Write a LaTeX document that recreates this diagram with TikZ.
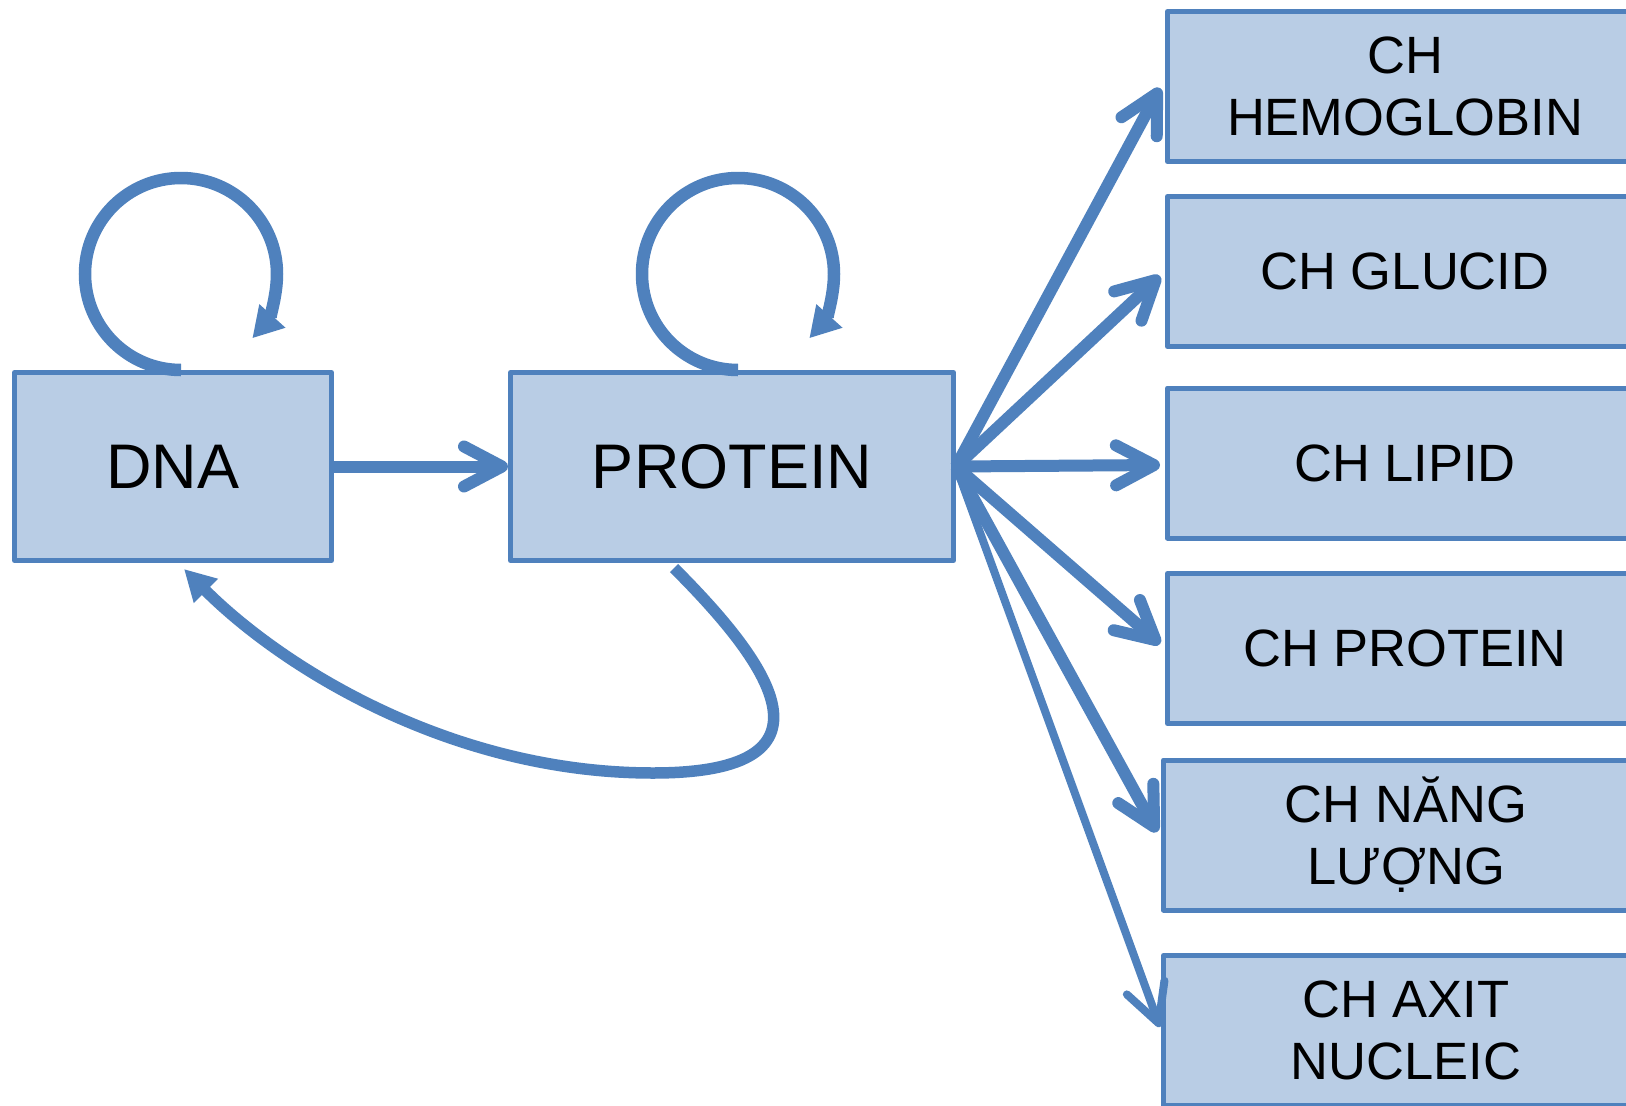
\documentclass[tikz,border=0pt]{standalone}
\usepackage{fontspec}
\setmainfont{Liberation Sans}
\usetikzlibrary{arrows.meta}
\definecolor{boxfill}{HTML}{B9CDE5}
\definecolor{boxline}{HTML}{4F81BD}
\begin{document}
\begin{tikzpicture}[x=1pt,y=-1pt,
  bigbox/.style={draw=boxline, fill=boxfill, line width=5pt, line join=round, inner sep=0pt,
    minimum height=188pt, font=\fontsize{63}{75}\selectfont},
  rbox/.style={draw=boxline, fill=boxfill, line width=5pt, line join=round, inner sep=0pt,
    minimum height=150pt, align=center, font=\fontsize{52.5}{62}\selectfont},
  openarrow/.style={draw=boxline, line width=#1, -{Straight Barb[length=38pt,width=40pt,round]}},
  openarrow/.default=12pt,
  looparrow/.style={draw=boxline, line width=12.5pt, -{Triangle[length=30pt,width=33pt]}},
  curvearrow/.style={draw=boxline, line width=11.5pt, -{Triangle[length=31pt,width=32pt]}}
]
\useasboundingbox (0,0) rectangle (1626,1106);
\clip (0,0) rectangle (1626,1106);
\fill[white] (0,0) rectangle (1626,1106);

\node[bigbox, minimum width=317pt] (dna) at (173,466.5) {DNA};
\node[bigbox, minimum width=443pt] (prot) at (732,466.5) {PROTEIN};

\node[rbox, minimum width=475pt] (b1) at (1405,86.5) {CH\\HEMOGLOBIN};
\node[rbox, minimum width=475pt] (b2) at (1405,271.5) {CH GLUCID};
\node[rbox, minimum width=475pt] (b3) at (1405,463) {CH LIPID};
\node[rbox, minimum width=475pt] (b4) at (1405,648.5) {CH PROTEIN};
\node[rbox, minimum width=485pt] (b5) at (1406,835) {CH NĂNG\\LƯỢNG};
\node[rbox, minimum width=485pt] (b6) at (1406,1030.5) {CH AXIT\\NUCLEIC};

% DNA -> PROTEIN
\draw[openarrow=12pt] (dna.east) -- (prot.west);

% self loops
\draw[looparrow] ([xshift=8pt]dna.north) arc[start angle=90, end angle=402, radius=96];
\draw[looparrow] ([xshift=6pt]prot.north) arc[start angle=90, end angle=402, radius=96];

% PROTEIN -> DNA curve
\coordinate (cbot) at (653,773);
\draw[curvearrow] ([shift={(-58,5)}]prot.south) .. controls +(90,90) and +(200,0) .. (cbot)
   .. controls +(-200,0) and +(100,100) .. ([shift={(11,6)}]dna.south);

% fan
\draw[openarrow] (prot.east) -- ([shift={(-5,1.5)}]b1.west);
\draw[openarrow] (prot.east) -- ([shift={(-5,4.5)}]b2.west);
\draw[openarrow] (prot.east) -- ([shift={(-5,2)}]b3.west);
\draw[openarrow] (prot.east) -- ([shift={(-5,-4.5)}]b4.west);
\draw[openarrow] (prot.east) -- ([shift={(-4,-3)}]b5.west);
\draw[openarrow=8pt] (prot.east) -- ([shift={(-1,-3.5)}]b6.west);
\end{tikzpicture}
\end{document}
